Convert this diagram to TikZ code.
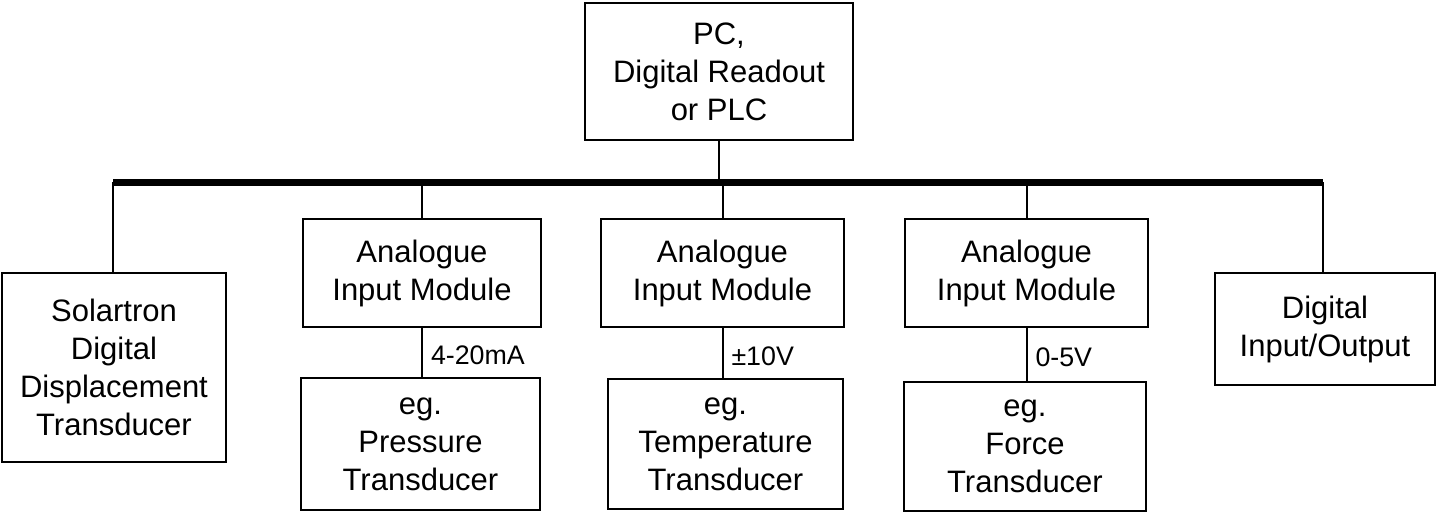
\documentclass[tikz,border=0pt]{standalone}
\usepackage{fontspec}
\setmainfont{Liberation Sans}
\usetikzlibrary{positioning}

\begin{document}
\begin{tikzpicture}
[
                     x =  0.5pt,
                     y = -0.5pt,
            box/.style = { draw=black, line width=1pt, align=center, inner sep=0pt,
                           font=\fontsize{15.5}{19}\selectfont },
           wire/.style = { draw=black, line width=1pt },
            bus/.style = { draw=black, line width=3.5pt },
            sig/.style = { draw=none, fill=none, anchor=west, xshift=4pt, yshift=-1.5pt, inner sep=0pt,
                           font=\fontsize{13.4}{15}\selectfont }
]
	\useasboundingbox (0,0) rectangle (1437,511);

	\node (pc)  at (719  , 71.5) [box, minimum width=134pt, minimum height=68.5pt] {PC,\\Digital Readout\\or PLC};
	\node (sol) at (114  ,367.5) [box, minimum width=112pt, minimum height=94.5pt] {Solartron\\Digital\\Displacement\\Transducer};
	\node (aim1) at (422  ,273  ) [box, minimum width=119pt, minimum height=54pt] {Analogue\\Input Module};
	\node (aim2) at (722.5,273  ) [box, minimum width=121.5pt, minimum height=54pt] {Analogue\\Input Module};
	\node (aim3) at (1026.5,273 ) [box, minimum width=121.5pt, minimum height=54pt] {Analogue\\Input Module};
	\node (eg1) at (420.5,444  ) [box, minimum width=119.5pt, minimum height=66pt] {eg.\\Pressure\\Transducer};
	\node (eg2) at (725.5,444  ) [box, minimum width=117.5pt, minimum height=65pt] {eg.\\Temperature\\Transducer};
	\node (eg3) at (1025 ,446.5) [box, minimum width=121pt, minimum height=64.5pt] {eg.\\Force\\Transducer};
	\node (dio) at (1325 ,329  ) [box, minimum width=110pt, minimum height=56pt] {Digital\\Input/Output};

	\coordinate (busL) at (113 ,182);
	\coordinate (busR) at (1323,182);

	% bus and drops
	\draw[bus]  (busL) -- (busR);
	\draw[wire] (pc.south)   -- (pc.south |- busL);
	\draw[wire] (busL)       -- (busL |- sol.north);
	\draw[wire] (aim1.north) -- (aim1.north |- busL);
	\draw[wire] (aim2.north) -- (aim2.north |- busL);
	\draw[wire] (aim3.north) -- (aim3.north |- busL);
	\draw[wire] (busR)       -- (busR |- dio.north);

	% signal lines
	\draw[wire] (aim1.south) -- node[sig] {4-20mA} (aim1.south |- eg1.north);
	\draw[wire] (aim2.south) -- node[sig] {±10V}   (aim2.south |- eg2.north);
	\draw[wire] (aim3.south) -- node[sig] {0-5V}   (aim3.south |- eg3.north);

\end{tikzpicture}
\end{document}
